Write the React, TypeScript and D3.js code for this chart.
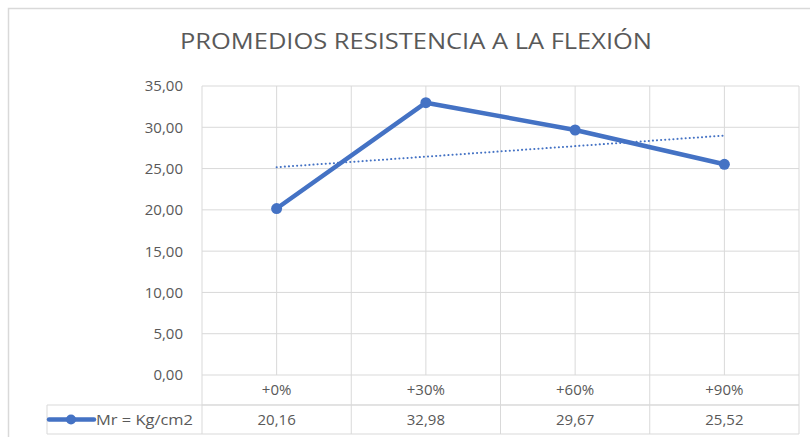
import React from "react";
import * as d3 from "d3";

const categories = ["+0%", "+30%", "+60%", "+90%"];
const seriesName = "Mr = Kg/cm2";
const values = [20.16, 32.98, 29.67, 25.52];
const yTicks = [0, 5, 10, 15, 20, 25, 30, 35];
const title = "PROMEDIOS RESISTENCIA A LA FLEXIÓN";

const W = 810;
const H = 437;
const FONT = "'Open Sans', sans-serif";
const TEXT = "#595959";
const GRID = "#d9d9d9";
const BLUE = "#4472C4";

const fmt = (v: number) => v.toFixed(2).replace(".", ",");

export default function App() {
  const plotLeft = 202;
  const plotRight = 799;
  const plotTop = 86;
  const plotBottom = 375;
  const rowH = 30;
  const legendLeft = 47;

  const y = d3.scaleLinear().domain([0, 35]).range([plotBottom, plotTop]);
  const band = d3.scaleBand<string>().domain(categories).range([plotLeft, plotRight]).padding(0);
  const cx = (c: string) => (band(c) as number) + band.bandwidth() / 2;

  // linear trend (least squares over category index 1..n)
  const xs = values.map((_, i) => i + 1);
  const mx = d3.mean(xs) as number;
  const my = d3.mean(values) as number;
  const slope =
    d3.sum(xs, (x, i) => (x - mx) * (values[i] - my)) / d3.sum(xs, (x) => (x - mx) * (x - mx));
  const intercept = my - slope * mx;
  const trendPts: [number, number][] = [
    [cx(categories[0]), y(intercept + slope * 1)],
    [cx(categories[categories.length - 1]), y(intercept + slope * categories.length)],
  ];

  const line = d3
    .line<number>()
    .x((_, i) => cx(categories[i]))
    .y((d) => y(d));

  const boundaries = [...categories.map((c) => band(c) as number), plotRight];
  const vGrid = [...boundaries, ...categories.map(cx)];

  const row1Bottom = plotBottom + rowH;
  const row2Bottom = row1Bottom + 29;

  return (
    <svg
      width={W}
      height={H}
      style={{ position: "absolute", left: 0, top: 0, background: "#fff" }}
      fontFamily={FONT}
    >
      <rect x={8.5} y={8.5} width={W + 20} height={H + 20} fill="#fff" stroke={GRID} strokeWidth={1.5} />

      <text
        x={(180 + 652) / 2}
        y={49}
        textAnchor="middle"
        fontSize={22}
        fill={TEXT}
        textLength={472}
        lengthAdjust="spacingAndGlyphs"
      >
        {title}
      </text>

      {/* horizontal gridlines */}
      {yTicks.map((t) => (
        <line key={"h" + t} x1={plotLeft} x2={plotRight} y1={y(t)} y2={y(t)} stroke={GRID} strokeWidth={1} />
      ))}
      {/* vertical gridlines */}
      {vGrid.map((x, i) => (
        <line key={"v" + i} x1={x} x2={x} y1={plotTop} y2={plotBottom} stroke={GRID} strokeWidth={1} />
      ))}

      {/* y tick labels */}
      {yTicks.map((t) => (
        <text key={"yl" + t} x={183} y={y(t)} dy="0.36em" textAnchor="end" fontSize={15} fill={TEXT}>
          {fmt(t)}
        </text>
      ))}

      {/* data table */}
      <line x1={plotLeft} x2={plotRight} y1={row1Bottom} y2={row1Bottom} stroke={GRID} />
      <line x1={legendLeft} x2={plotRight} y1={row1Bottom} y2={row1Bottom} stroke={GRID} />
      <line x1={legendLeft} x2={plotRight} y1={row2Bottom} y2={row2Bottom} stroke={GRID} />
      <line x1={legendLeft} x2={legendLeft} y1={row1Bottom} y2={row2Bottom} stroke={GRID} />
      {boundaries.map((x, i) => (
        <line key={"tb" + i} x1={x} x2={x} y1={plotBottom} y2={row2Bottom} stroke={GRID} />
      ))}
      {categories.map((c) => (
        <text key={"c" + c} x={cx(c)} y={plotBottom + rowH / 2} dy="0.36em" textAnchor="middle" fontSize={15} fill={TEXT}>
          {c}
        </text>
      ))}
      {values.map((v, i) => (
        <text
          key={"tv" + i}
          x={cx(categories[i])}
          y={row1Bottom + 29 / 2}
          dy="0.36em"
          textAnchor="middle"
          fontSize={15}
          fill={TEXT}
        >
          {fmt(v)}
        </text>
      ))}
      {/* legend key */}
      <line x1={49} x2={94} y1={row1Bottom + 14.5} y2={row1Bottom + 14.5} stroke={BLUE} strokeWidth={4.5} strokeLinecap="round" />
      <circle cx={71} cy={row1Bottom + 14.5} r={5} fill={BLUE} />
      <text x={96} y={row1Bottom + 14.5} dy="0.36em" fontSize={15} fill={TEXT} textLength={97} lengthAdjust="spacingAndGlyphs">
        {seriesName}
      </text>

      {/* trendline */}
      <path
        d={d3.line()(trendPts) as string}
        fill="none"
        stroke={BLUE}
        strokeWidth={2}
        strokeDasharray="0.1 4"
        strokeLinecap="round"
      />

      {/* series */}
      <path d={line(values) as string} fill="none" stroke={BLUE} strokeWidth={4.5} strokeLinejoin="round" />
      {values.map((v, i) => (
        <circle key={"m" + i} cx={cx(categories[i])} cy={y(v)} r={5.5} fill={BLUE} />
      ))}
    </svg>
  );
}
